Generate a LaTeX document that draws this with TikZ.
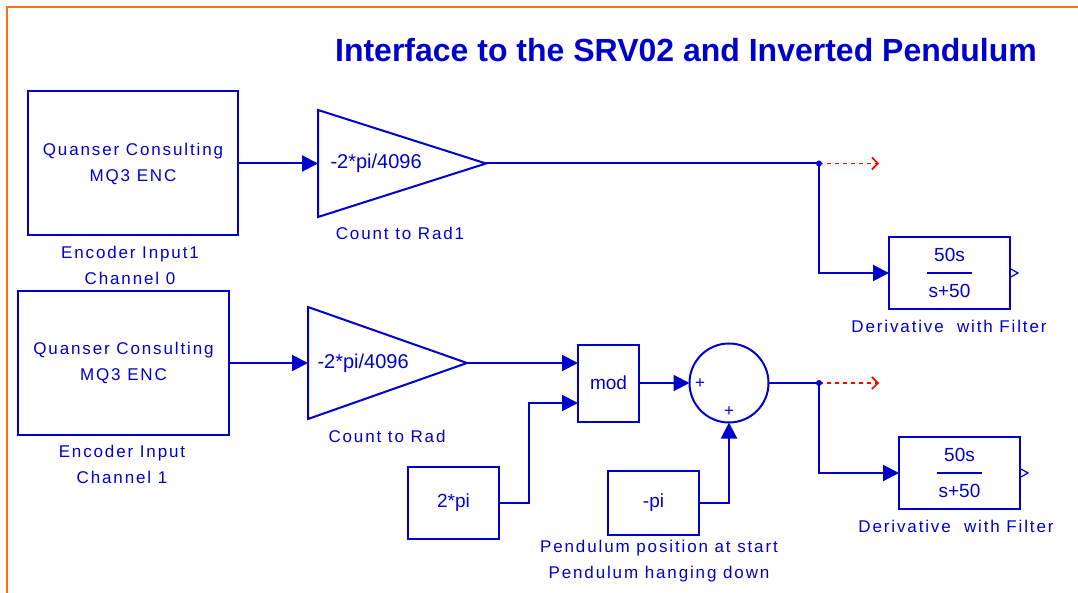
\documentclass[tikz,border=0pt]{standalone}
\usepackage{fontspec}
\setmainfont{Liberation Sans}
\newfontfamily\lblfont[LetterSpace=11]{Liberation Sans}
\usepackage{xcolor}
\usepackage{tikz}
\usetikzlibrary{arrows.meta,shapes.geometric}
\definecolor{simblue}{RGB}{0,0,205}
\definecolor{frameorange}{RGB}{255,110,20}

\begin{document}
\begin{tikzpicture}[x=1pt,y=-1pt,
    blk/.style={draw=simblue, line width=2pt, inner sep=0pt, outer sep=0pt, text=simblue, font=\fontsize{19}{23}\selectfont},
    gain/.style={blk, isosceles triangle, isosceles triangle stretches, shape border rotate=0},
    lbl/.style={text=simblue, font=\lblfont\fontsize{17}{26}\selectfont, align=center},
    gaintxt/.style={anchor=west, text=simblue, font=\fontsize{20}{24}\selectfont},
    sig/.style={draw=simblue, line width=2pt, -{Triangle[length=16pt,width=16pt]}},
    wire/.style={draw=simblue, line width=2pt},
    term/.style={draw=red, line width=1.6pt, dash pattern=on 4pt off 4pt, -{Straight Barb[length=6pt,width=12pt]}}]
    \useasboundingbox (0,0) rectangle (1078,593);

    % frame
    \draw[frameorange, line width=2.5pt] (1078,7) -- (7,7) -- (7,593);

    % title
    \node[text=simblue, font=\bfseries\fontsize{32}{36}\selectfont, anchor=base] (title) at (686,62) {Interface to the SRV02 and Inverted Pendulum};

    % encoder blocks
    \node[blk, lbl, minimum width=210pt, minimum height=144pt] (enc1) at (133,163.5) {Quanser Consulting\\MQ3 ENC};
    \node[lbl] (enc1lbl) at (130,265) {Encoder Input1\\Channel 0};
    \node[blk, lbl, minimum width=211pt, minimum height=143pt] (enc2) at (123.5,363) {Quanser Consulting\\MQ3 ENC};
    \node[lbl] (enc2lbl) at (122,464.5) {Encoder Input\\Channel 1};

    % gains
    \node[gain, minimum height=168pt, minimum width=107pt, anchor=apex] (g1) at (486,163.5) {};
    \node[gaintxt] (g1txt) at (327,163.5) {-2*pi/4096};
    \node[lbl] (cnt1) at (400,233) {Count to Rad1};
    \node[gain, minimum height=159pt, minimum width=112pt, anchor=apex] (g2) at (467,363) {};
    \node[gaintxt] (g2txt) at (314,363) {-2*pi/4096};
    \node[lbl] (cnt2) at (387,436) {Count to Rad};

    % constants, mod and sum
    \node[blk, minimum width=91pt, minimum height=72pt] (twopi) at (453.5,503) {2*pi};
    \node[blk, minimum width=61pt, minimum height=77pt] (mod) at (608.5,383) {mod};
    \node[blk, minimum width=91pt, minimum height=64pt] (negpi) at (653.5,503) {-pi};
    \node[lbl] (pendlbl) at (659,561) {Pendulum position at start\\Pendulum hanging down};
    \node[blk, circle, minimum size=79pt] (sum) at (729,383) {};
    \node[text=simblue, font=\fontsize{17}{20}\selectfont] (plus1) at (700,384) {+};
    \node[text=simblue, font=\fontsize{17}{20}\selectfont] (plus2) at (729,412) {+};

    % derivative filters
    \node[blk, minimum width=121pt, minimum height=72pt] (d1) at (949.5,273) {\renewcommand{\arraystretch}{1.5}\setlength{\tabcolsep}{2pt}\setlength{\arrayrulewidth}{1.5pt}\begin{tabular}{c}50s\\\hline s+50\end{tabular}};
    \node[lbl] (d1lbl) at (949,326) {Derivative\ \ with Filter};
    \node[blk, minimum width=121pt, minimum height=72pt] (d2) at (959.5,473) {\renewcommand{\arraystretch}{1.5}\setlength{\tabcolsep}{2pt}\setlength{\arrayrulewidth}{1.5pt}\begin{tabular}{c}50s\\\hline s+50\end{tabular}};
    \node[lbl] (d2lbl) at (956,526) {Derivative\ \ with Filter};

    % branch points and open ends
    \coordinate (b1) at (819,163.5);
    \coordinate (t1) at (879,163.5);
    \coordinate (b2) at (819,383);
    \coordinate (t2) at (879,383);

    % upper path
    \draw[sig] (enc1.east) -- (g1.west);
    \draw[wire] (g1.apex) -- (b1);
    \draw[term] (b1) -- (t1);
    \draw[sig] (b1) |- (d1.west);
    \fill[simblue] (b1) circle (3pt);

    % lower path
    \draw[sig] (enc2.east) -- (g2.west);
    \draw[sig] (g2.apex) -- (g2.apex -| mod.west);
    \draw[sig] (twopi.east) -- ++(30pt,0pt) |- ([yshift=-20pt]mod.west);
    \draw[sig] (mod.east) -- (sum.west);
    \draw[sig] (negpi.east) -| (sum.south);
    \draw[wire] (sum.east) -- (b2);
    \draw[term] (b2) -- (t2);
    \draw[sig] (b2) |- (d2.west);
    \fill[simblue] (b2) circle (3pt);

    % output ports
    \draw[wire, line width=1.2pt] ([yshift=4.5pt]d1.east) -- ++(8pt,-4.5pt) -- ++(-8pt,-4.5pt);
    \draw[wire, line width=1.2pt] ([yshift=4.5pt]d2.east) -- ++(8pt,-4.5pt) -- ++(-8pt,-4.5pt);
\end{tikzpicture}
\end{document}
